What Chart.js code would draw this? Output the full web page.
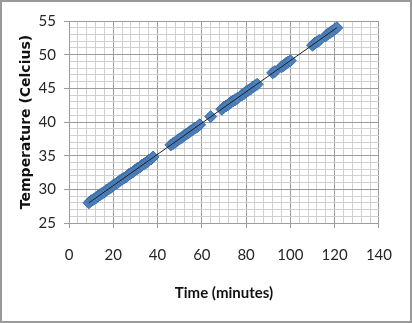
<!DOCTYPE html>
<html>
<head>
<meta charset="utf-8">
<script src="https://cdn.jsdelivr.net/npm/chart.js@4.4.1/dist/chart.umd.min.js"></script>
<style>
  html, body { margin: 0; padding: 0; background: #fff; }
  #wrap { position: relative; width: 412px; height: 323px; box-sizing: border-box; border: 2px solid #9a9a9a; }
  #chart { display: block; }
</style>
</head>
<body>
<div id="wrap"><canvas id="chart" width="408" height="319"></canvas></div>
<script>
// ── data
const timeMin = [
  9, 10, 11, 12, 13, 14, 15, 16, 17, 18, 19, 20, 21, 22, 23, 24, 25, 26, 27, 28,
  29, 30, 31, 32, 33, 34, 35, 36, 37, 38,
  46, 47, 48, 49, 50, 51, 52, 53, 54, 55, 56, 57, 58, 59,
  64,
  69, 70, 71, 72, 73, 74, 75, 76,
  78, 79, 80, 81, 82, 83, 84, 85,
  92, 93,
  96, 97, 98, 99, 100,
  110, 111, 112, 113,
  116, 117, 118, 119, 120, 121,
];
const tempC = [
  28.0, 28.3, 28.5, 28.7, 29.0, 29.2, 29.4, 29.6, 29.9, 30.1, 30.3, 30.6, 30.8, 31.0, 31.3, 31.5, 31.7, 31.9, 32.2, 32.4,
  32.6, 32.9, 33.1, 33.3, 33.6, 33.8, 34.0, 34.3, 34.5, 34.8,
  36.6, 36.8, 37.0, 37.3, 37.5, 37.7, 38.0, 38.2, 38.4, 38.7, 38.9, 39.1, 39.3, 39.6,
  40.8,
  41.9, 42.2, 42.4, 42.6, 42.9, 43.1, 43.3, 43.5,
  44.0, 44.2, 44.5, 44.7, 44.9, 45.2, 45.4, 45.6,
  47.3, 47.5,
  48.2, 48.4, 48.7, 48.9, 49.1,
  51.4, 51.7, 51.9, 52.1,
  52.8, 53.1, 53.3, 53.5, 53.8, 54.0,
];
// linear trendline ends
const trendTime = [9, 121];
const trendTemp = [28.0, 54.0];

const xLabels = [0, 20, 40, 60, 80, 100, 120, 140];
const yLabels = [25, 30, 35, 40, 45, 50, 55];

const MAJOR = '#9c9c9c';
const MINOR = '#d0d0d0';
const TICK_FONT = { family: "Lato, 'Liberation Sans', sans-serif", size: 15 };

const points = timeMin.map((t, i) => ({ x: t, y: tempC[i] }));
const trend  = trendTime.map((t, i) => ({ x: t, y: trendTemp[i] }));

new Chart(document.getElementById('chart'), {
  type: 'scatter',
  data: {
    datasets: [
      {
        type: 'line',
        label: 'Linear',
        data: trend,
        borderColor: '#1e1e1e',
        borderWidth: 1,
        pointRadius: 0,
        fill: false,
        order: 0,
      },
      {
        label: 'Temperature',
        data: points,
        pointStyle: 'rectRot',
        pointRadius: 6,
        backgroundColor: '#4f81bd',
        borderColor: '#3d6ea8',
        borderWidth: 1,
        order: 1,
      },
    ],
  },
  options: {
    responsive: false,
    animation: false,
    layout: { padding: { left: 0, right: 22, top: 19, bottom: 0 } },
    plugins: { legend: { display: false }, tooltip: { enabled: false } },
    scales: {
      x: {
        type: 'linear',
        min: 0, max: 140,
        afterFit: s => { s.height = 98; },
        ticks: {
          stepSize: 4,
          autoSkip: false,
          maxRotation: 0,
          padding: 18,
          color: '#262626',
          font: TICK_FONT,
          callback: v => xLabels.includes(v) ? String(v) : '',
        },
        grid: {
          color: c => (c.tick && c.tick.value % 20 === 0) ? MAJOR : MINOR,
          tickColor: c => (c.tick && c.tick.value % 20 === 0) ? MAJOR : 'rgba(0,0,0,0)',
          tickLength: 5,
        },
        border: { color: MAJOR },
        title: {
          display: true,
          text: 'Time (minutes)',
          color: '#111',
          font: { family: "Lato, 'Liberation Sans', sans-serif", size: 15, weight: 'bold' },
          padding: { top: 0, bottom: 19 },
        },
      },
      y: {
        min: 25, max: 55,
        afterFit: s => { s.width = 67; },
        ticks: {
          stepSize: 1,
          autoSkip: false,
          padding: 8,
          color: '#262626',
          font: TICK_FONT,
          callback: v => yLabels.includes(v) ? String(v) : '',
        },
        grid: {
          color: c => (c.tick && c.tick.value % 5 === 0) ? MAJOR : MINOR,
          tickColor: c => (c.tick && c.tick.value % 5 === 0) ? MAJOR : 'rgba(0,0,0,0)',
          tickLength: 5,
        },
        border: { color: MAJOR },
        title: {
          display: true,
          text: 'Temperature (Celcius)',
          color: '#111',
          font: { family: "'DejaVu Sans', sans-serif", size: 14, weight: 'bold' },
          padding: { top: 16, bottom: 0 },
        },
      },
    },
  },
});
</script>
</body>
</html>
